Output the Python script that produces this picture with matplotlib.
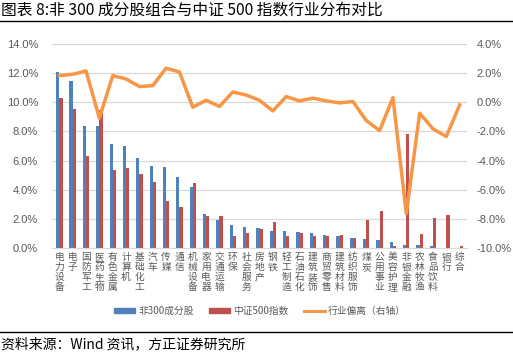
import matplotlib
matplotlib.use("Agg")
import matplotlib.pyplot as plt
import numpy as np
from matplotlib.lines import Line2D
from matplotlib.patches import Patch

plt.rcParams['font.family'] = ['Noto Sans CJK SC', 'DejaVu Sans']

categories = ["电力设备", "电子", "国防军工", "医药生物", "有色金属", "计算机", "基础化工", "汽车",
              "传媒", "通信", "机械设备", "家用电器", "交通运输", "环保", "社会服务", "房地产",
              "钢铁", "轻工制造", "石油石化", "建筑装饰", "商贸零售", "建筑材料", "纺织服饰", "煤炭",
              "公用事业", "美容护理", "非银金融", "农林牧渔", "食品饮料", "银行", "综合"]
non300 = [12.07, 11.48, 8.40, 8.36, 7.15, 7.03, 6.16, 5.66, 5.59, 4.86, 4.16, 2.33, 1.92, 1.55, 1.46, 1.39,
          1.14, 1.16, 1.10, 1.03, 0.89, 0.84, 0.66, 0.60, 0.55, 0.43, 0.20, 0.20, 0.16, 0.0, 0.0]
csi500 = [10.27, 9.57, 6.28, 9.45, 5.37, 5.48, 5.09, 4.54, 3.22, 2.79, 4.47, 2.17, 2.21, 0.84, 1.00, 1.30,
          1.78, 0.80, 1.03, 0.80, 0.82, 0.89, 0.66, 1.92, 2.53, 0.14, 7.85, 0.94, 2.05, 2.26, 0.14]
deviation = [1.83, 1.92, 2.15, -1.09, 1.83, 1.60, 1.08, 1.14, 2.34, 2.08, -0.34, 0.14, -0.29, 0.71, 0.50, 0.14,
             -0.59, 0.39, 0.10, 0.28, 0.10, -0.04, 0.05, -1.25, -1.94, 0.32, -7.64, -0.75, -1.82, -2.35, -0.18]
left_ticks = [0, 2, 4, 6, 8, 10, 12, 14]
right_ticks = [-10, -8, -6, -4, -2, 0, 2, 4]
legend_labels = ["非300成分股", "中证500指数", "行业偏离（右轴）"]
title = "图表 8:非 300 成分股组合与中证 500 指数行业分布对比"
source = "资料来源：Wind 资讯，方正证券研究所"

blue = "#4F81BD"
red = "#C0504D"
orange = "#F79646"
grey = "#595959"
num_font = ['Liberation Sans', 'DejaVu Sans']

W, H = 513, 356
fig = plt.figure(figsize=(W / 100, H / 100), dpi=100)
ax = fig.add_axes([52 / W, (H - 248) / H, 415 / W, (248 - 44) / H])
x = np.arange(len(categories))
bw = 0.24
ax.bar(x - bw / 2, non300, width=bw, color=blue, zorder=2)
ax.bar(x + bw / 2, csi500, width=bw, color=red, zorder=2)
ax.set_xlim(-0.55, len(categories) - 0.45)
ax.set_ylim(0, 14)
ax.set_yticks(left_ticks)
ax.set_yticklabels([f"{v:.1f}%" for v in left_ticks], color=grey, fontsize=8, family=num_font)
ax.yaxis.grid(True, color="#D9D9D9", linewidth=0.9, zorder=0)
ax.set_axisbelow(True)
for s in ["top", "right", "left"]:
    ax.spines[s].set_visible(False)
ax.spines["bottom"].set_color("#D9D9D9")
ax.tick_params(axis="both", length=0)
ax.tick_params(axis="y", pad=10)
ax.set_xticks(x)
ax.set_xticklabels(["\n".join(c) for c in categories], fontsize=7, color=grey, linespacing=1.0)
ax.tick_params(axis="x", pad=3)

ax2 = ax.twinx()
ax2.plot(x, deviation, color=orange, linewidth=2.5, zorder=3)
ax2.set_ylim(-10, 4)
ax2.set_yticks(right_ticks)
ax2.set_yticklabels([f"{v:.1f}%" for v in right_ticks], color=grey, fontsize=8, family=num_font)
for s in ["top", "right", "left", "bottom"]:
    ax2.spines[s].set_visible(False)
ax2.tick_params(axis="y", length=0, pad=7)

handles = [Patch(color=blue), Patch(color=red), Line2D([0], [0], color=orange, linewidth=2.2)]
fig.legend(handles, legend_labels, loc="center", bbox_to_anchor=(260 / W, (H - 311) / H), ncol=3,
           frameon=False, fontsize=7, labelcolor=grey, handlelength=2.2, handleheight=0.35,
           columnspacing=1.55, handletextpad=0.3)

fig.text(1 / W, 1 - 10 / H, title, fontsize=11.3, va="center", ha="left", color="black")
fig.add_artist(Line2D([0, 1], [1 - 21 / H, 1 - 21 / H], color="black", linewidth=1.0))
fig.add_artist(Line2D([0, 1], [1 - 332 / H, 1 - 332 / H], color="black", linewidth=1.0))
fig.text(1 / W, 1 - 344 / H, source, fontsize=10, va="center", ha="left", style="italic", color="black")

fig.savefig("out.png", dpi=100)
